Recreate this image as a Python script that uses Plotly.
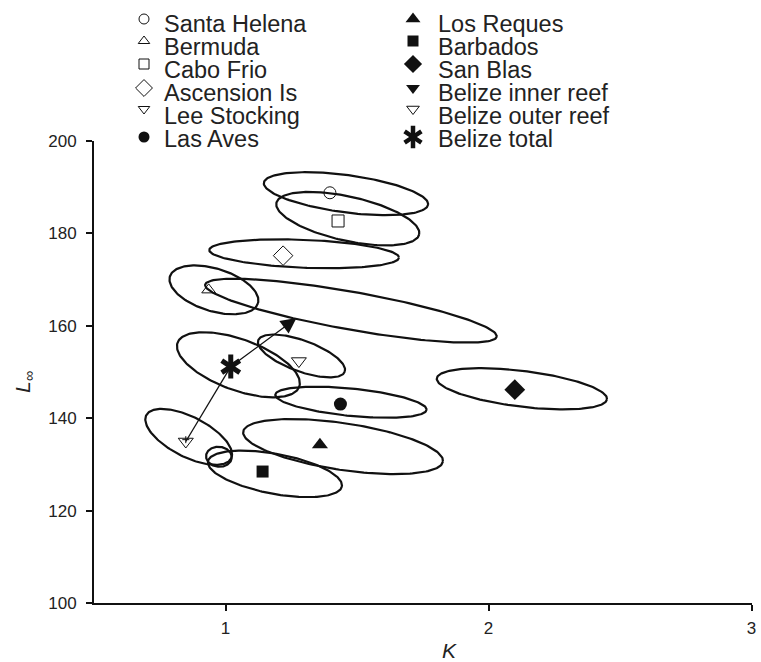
import numpy as np
import plotly.graph_objects as go

# ---------------- data ----------------
SITES = ["Santa Helena", "Bermuda", "Cabo Frio", "Ascension Is", "Lee Stocking",
         "Las Aves", "Los Reques", "Barbados", "San Blas",
         "Belize inner reef", "Belize outer reef", "Belize total"]
K_VALUES = [1.397, 0.936, 1.428, 1.219, 1.279, 1.437, 1.359, 1.141, 2.100, 1.270, 0.849, 1.020]
LINF_VALUES = [188.8, 167.8, 182.7, 175.2, 152.4, 143.1, 134.3, 128.5, 146.2, 161.7, 135.0, 151.2]

# confidence ellipses: centre (K, Linf), semi-axes expressed in K-axis units, tilt in degrees
ELLIPSE_K = [1.458, 1.465, 1.299, 0.956, 1.477, 1.049, 1.289, 1.477, 2.127, 1.447, 1.188, 0.860, 0.975]
ELLIPSE_L = [188.6, 183.2, 175.6, 167.8, 163.3, 151.6, 153.5, 143.5, 146.4, 133.9, 128.0, 136.0, 131.7]
ELLIPSE_MAJOR = [0.315, 0.278, 0.361, 0.175, 0.563, 0.246, 0.175, 0.289, 0.326, 0.384, 0.259, 0.181, 0.049]
ELLIPSE_MINOR = [0.071, 0.084, 0.053, 0.081, 0.072, 0.097, 0.059, 0.052, 0.068, 0.089, 0.076, 0.076, 0.038]
ELLIPSE_TILT = [7.6, 12.5, 2.3, 17.0, 10.1, 19.9, 20.0, 5.7, 7.0, 8.5, 10.6, 27.0, 5.0]

X_TICKS = [1, 2, 3]
Y_TICKS = [100, 120, 140, 160, 180, 200]
X_RANGE = [0.5, 3.0]
Y_RANGE = [100, 200]

# ---------------- layout constants ----------------
W, H = 761, 662
PL, PR, PT, PB = 94, 751.5, 141, 603.3   # plot-area edges in px
PX_PER_K = (PR - PL) / (X_RANGE[1] - X_RANGE[0])
PX_PER_L = (PB - PT) / (Y_RANGE[1] - Y_RANGE[0])
FONT = "Liberation Sans, Arial, Helvetica, sans-serif"
INK = "#111"
TXT = "#222"

STYLE = {
    "Santa Helena": dict(symbol="circle-open", size=12),
    "Bermuda": dict(symbol="triangle-up-open", size=12),
    "Cabo Frio": dict(symbol="square-open", size=12),
    "Ascension Is": dict(symbol="diamond-open", size=15),
    "Lee Stocking": dict(symbol="triangle-down-open", size=13),
    "Las Aves": dict(symbol="circle", size=13),
    "Los Reques": dict(symbol="triangle-up", size=14),
    "Barbados": dict(symbol="square", size=12),
    "San Blas": dict(symbol="diamond", size=16),
    "Belize outer reef": dict(symbol="triangle-down-open", size=13),
}

fig = go.Figure()

# ellipses
t = np.linspace(0, 2 * np.pi, 181)
for ck, cl, a, b, th in zip(ELLIPSE_K, ELLIPSE_L, ELLIPSE_MAJOR, ELLIPSE_MINOR, ELLIPSE_TILT):
    ap, bp = a * PX_PER_K, b * PX_PER_K
    r = np.deg2rad(th)
    u, v = ap * np.cos(t), bp * np.sin(t)
    sx = u * np.cos(r) - v * np.sin(r)
    sy = u * np.sin(r) + v * np.cos(r)   # screen-down
    fig.add_trace(go.Scatter(x=ck + sx / PX_PER_K, y=cl - sy / PX_PER_L, mode="lines",
                             line=dict(color=INK, width=2.2), hoverinfo="skip",
                             showlegend=False))

idx = {s: i for i, s in enumerate(SITES)}
iT, iI, iO = idx["Belize total"], idx["Belize inner reef"], idx["Belize outer reef"]

# line total -> outer reef
fig.add_trace(go.Scatter(x=[K_VALUES[iT], K_VALUES[iO]], y=[LINF_VALUES[iT], LINF_VALUES[iO]],
                         mode="lines", line=dict(color=INK, width=1.3), showlegend=False))

# site markers
for s, st in STYLE.items():
    i = idx[s]
    open_ = st["symbol"].endswith("open")
    fig.add_trace(go.Scatter(x=[K_VALUES[i]], y=[LINF_VALUES[i]], mode="markers",
                             marker=dict(symbol=st["symbol"], size=st["size"], color=INK,
                                         line=dict(color="#333", width=1 if open_ else 0)),
                             showlegend=False, name=s))
fig.add_trace(go.Scatter(x=[K_VALUES[iO]], y=[LINF_VALUES[iO] + 0.4], mode="markers",
                         marker=dict(symbol="cross-thin-open", size=5, color=INK,
                                     line=dict(color=INK, width=1)),
                         showlegend=False))
# Belize total: bold six-armed asterisk (two overlaid Y symbols)
for sym in ("y-up-open", "y-down-open"):
    fig.add_trace(go.Scatter(x=[K_VALUES[iT]], y=[LINF_VALUES[iT]], mode="markers",
                             marker=dict(symbol=sym, size=15, color=INK,
                                         line=dict(color=INK, width=5)),
                             showlegend=False))

annotations = []
# arrow total -> inner reef
annotations.append(dict(x=K_VALUES[iI], y=LINF_VALUES[iI], ax=K_VALUES[iT], ay=LINF_VALUES[iT],
                        xref="x", yref="y", axref="x", ayref="y", text="", showarrow=True,
                        arrowhead=2, arrowsize=2.4, arrowwidth=1.3, arrowcolor=INK,
                        standoff=0, startstandoff=0))

# ---------------- manual legend on full-figure pixel axes ----------------
COL1 = ["Santa Helena", "Bermuda", "Cabo Frio", "Ascension Is", "Lee Stocking", "Las Aves"]
COL2 = ["Los Reques", "Barbados", "San Blas", "Belize inner reef", "Belize outer reef", "Belize total"]
LEG_SYM = {
    "Santa Helena": ("circle-open", 10), "Bermuda": ("triangle-up-open", 10),
    "Cabo Frio": ("square-open", 10), "Ascension Is": ("diamond-open", 13),
    "Lee Stocking": ("triangle-down-open", 10), "Las Aves": ("circle", 11),
    "Los Reques": ("triangle-up", 13), "Barbados": ("square", 11),
    "San Blas": ("diamond", 14), "Belize inner reef": ("triangle-down", 12),
    "Belize outer reef": ("triangle-down-open", 11), "Belize total": (None, 14),
}
ROW_Y = [19, 41, 64, 88, 109, 137]
TEXT_Y = [24, 47.3, 69.6, 93, 116.3, 139]
cols = [(COL1, 144, 162), (COL2, 413, 436)]
for names, mx, tx in cols:
    for j, n in enumerate(names):
        sym, sz = LEG_SYM[n]
        syms = [sym] if sym else ["y-up-open", "y-down-open"]
        for s in syms:
            lw = 4.5 if s.startswith("y-") else (1 if s.endswith("open") else 0)
            fig.add_trace(go.Scatter(x=[mx], y=[ROW_Y[j]], xaxis="x2", yaxis="y2", mode="markers",
                                     marker=dict(symbol=s, size=sz, color=INK,
                                                 line=dict(color=INK, width=lw)),
                                     showlegend=False, hoverinfo="skip"))
        annotations.append(dict(x=tx, y=TEXT_Y[j], xref="x2", yref="y2", text=n, showarrow=False,
                                xanchor="left", yanchor="middle",
                                font=dict(family=FONT, size=23.5, color=TXT)))

# axis titles
annotations.append(dict(x=449, y=650, xref="x2", yref="y2", text="<i>K</i>", showarrow=False,
                        font=dict(family=FONT, size=21, color=TXT)))
annotations.append(dict(x=24, y=382, xref="x2", yref="y2", text="<i>L</i><sub>∞</sub>",
                        showarrow=False, textangle=-90,
                        font=dict(family=FONT, size=21, color=TXT)))

axis_common = dict(ticks="outside", ticklen=6, tickwidth=2, tickcolor=INK, showline=True,
                   linecolor=INK, linewidth=2, showgrid=False, zeroline=False,
                   automargin=False, tickfont=dict(size=17, color=TXT))
fig.update_layout(
    width=W, height=H, margin=dict(l=0, r=0, t=0, b=0, autoexpand=False),
    paper_bgcolor="white", plot_bgcolor="rgba(0,0,0,0)", showlegend=False,
    font=dict(family=FONT, size=17, color=TXT),
    xaxis=dict(range=X_RANGE, tickvals=X_TICKS, domain=[PL / W, PR / W], anchor="y",
               ticklabelstandoff=2, **axis_common),
    yaxis=dict(range=Y_RANGE, tickvals=Y_TICKS, domain=[1 - PB / H, 1 - PT / H], anchor="x",
               ticklabelstandoff=6, **axis_common),
    xaxis2=dict(domain=[0, 1], range=[0, W], anchor="y2", visible=False, fixedrange=True,
                automargin=False),
    yaxis2=dict(domain=[0, 1], range=[H, 0], anchor="x2", visible=False, fixedrange=True,
                automargin=False),
    annotations=annotations,
)

fig.write_html("out.html", config={"displayModeBar": False},
               post_script="document.body.style.margin='0px';")
